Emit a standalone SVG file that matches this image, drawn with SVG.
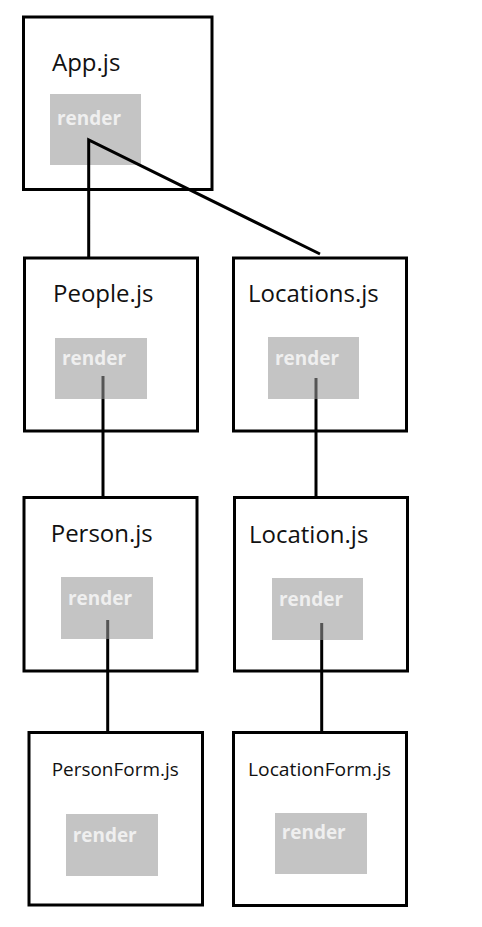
<svg xmlns="http://www.w3.org/2000/svg" width="482" height="927" viewBox="0 0 482 927">
<style>
.box{fill:none;stroke:#000;stroke-width:3}
.rb{fill:#969696;fill-opacity:0.565}
.title{font-family:"Open Sans","Liberation Sans",sans-serif;font-size:24px;fill:#111}
.small{font-size:19px}
.rt{font-family:"Open Sans","Liberation Sans",sans-serif;font-size:19px;font-weight:bold;fill:#efefef}
.conn{stroke:#000;stroke-width:3;fill:none}
</style>
<rect width="482" height="927" fill="#fff"/>
<g id="app">
<rect class="box" x="23.5" y="17" width="188.5" height="172.5"/>
<text class="title" x="52" y="71">App.js</text>
<rect class="rb" x="50" y="94" width="91" height="71"/>
<text class="rt" x="57" y="125" textLength="64" lengthAdjust="spacingAndGlyphs">render</text>
</g>
<g id="connectors">
<polyline class="conn" points="88.7,257 88.7,140 320,254"/>
<line class="conn" x1="103" y1="376" x2="103" y2="496"/>
<line class="conn" x1="316" y1="378" x2="316" y2="496"/>
<line class="conn" x1="107.7" y1="620" x2="107.7" y2="733"/>
<line class="conn" x1="321.7" y1="623" x2="321.7" y2="733"/>
</g>
<g id="people">
<rect class="box" x="24.5" y="258" width="173" height="173"/>
<text class="title" x="53" y="302">People.js</text>
<rect class="rb" x="55" y="338" width="92" height="61"/>
<text class="rt" x="62" y="365" textLength="64" lengthAdjust="spacingAndGlyphs">render</text>
</g>
<g id="locations">
<rect class="box" x="233.5" y="258" width="173" height="173"/>
<text class="title" x="248" y="302">Locations.js</text>
<rect class="rb" x="268" y="337" width="91" height="62"/>
<text class="rt" x="275" y="365" textLength="64" lengthAdjust="spacingAndGlyphs">render</text>
</g>
<g id="person">
<rect class="box" x="24" y="497.5" width="173" height="173.5"/>
<text class="title" x="50.7" y="542">Person.js</text>
<rect class="rb" x="61" y="577" width="92" height="62"/>
<text class="rt" x="68" y="605" textLength="64" lengthAdjust="spacingAndGlyphs">render</text>
</g>
<g id="location">
<rect class="box" x="234.5" y="497.5" width="173" height="173.5"/>
<text class="title" x="249" y="543">Location.js</text>
<rect class="rb" x="272" y="578" width="91" height="62"/>
<text class="rt" x="279" y="606" textLength="64" lengthAdjust="spacingAndGlyphs">render</text>
</g>
<g id="personform">
<rect class="box" x="29" y="732.5" width="173.5" height="172.5"/>
<text class="title small" x="51.7" y="776" textLength="127" lengthAdjust="spacingAndGlyphs">PersonForm.js</text>
<rect class="rb" x="66" y="814" width="92" height="62"/>
<text class="rt" x="72.7" y="841.7" textLength="64" lengthAdjust="spacingAndGlyphs">render</text>
</g>
<g id="locationform">
<rect class="box" x="233.5" y="732.5" width="173" height="173"/>
<text class="title small" x="248" y="776" textLength="143" lengthAdjust="spacingAndGlyphs">LocationForm.js</text>
<rect class="rb" x="275" y="813" width="92" height="61"/>
<text class="rt" x="281.7" y="839" textLength="64" lengthAdjust="spacingAndGlyphs">render</text>
</g>
</svg>
